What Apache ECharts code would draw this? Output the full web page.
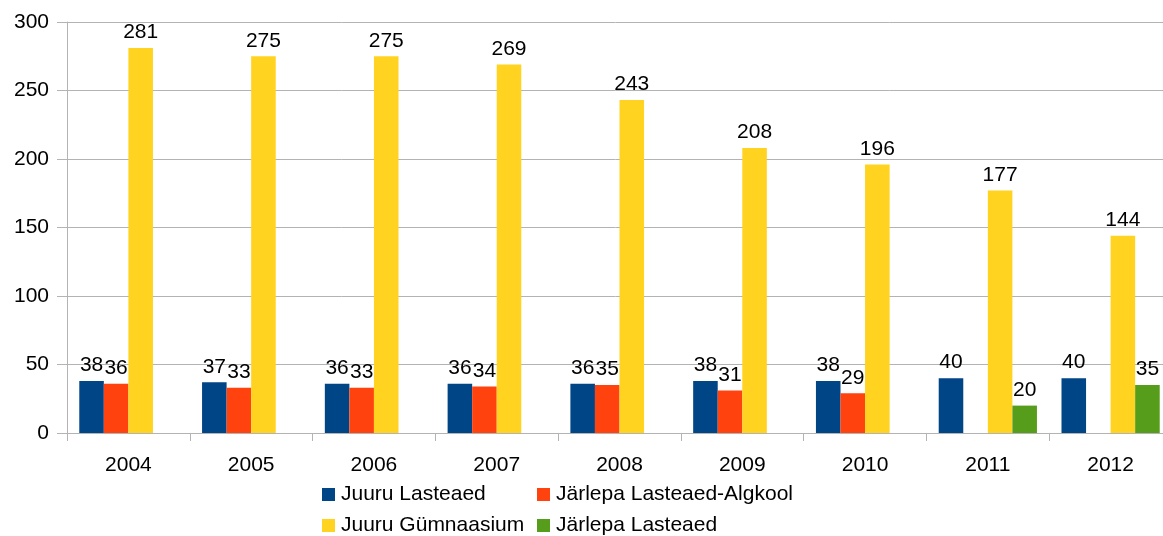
<!DOCTYPE html>
<html>
<head>
<meta charset="utf-8">
<script src="https://cdn.jsdelivr.net/npm/echarts@6/dist/echarts.min.js"></script>
<style>html,body{margin:0;padding:0;background:#fff;overflow:hidden}#c{width:1163px;height:536px}</style>
</head>
<body>
<div id="c"></div>
<script>
const categories = ['2004','2005','2006','2007','2008','2009','2010','2011','2012'];
const juuruLasteaed = [38,37,36,36,36,38,38,40,40];
const jarlepaLasteaedAlgkool = [36,33,33,34,35,31,29,null,null];
const juuruGumnaasium = [281,275,275,269,243,208,196,177,144];
const jarlepaLasteaed = [null,null,null,null,null,null,null,20,35];
const seriesNames = ['Juuru Lasteaed','Järlepa Lasteaed-Algkool','Juuru Gümnaasium','Järlepa Lasteaed'];
const colors = ['#004586','#ff420e','#ffd320','#579d1c'];
const yTicks = [0,50,100,150,200,250,300];

const FONT = 'Liberation Sans';
const FS = 21;
const chart = echarts.init(document.getElementById('c'));
const seriesData = [juuruLasteaed, jarlepaLasteaedAlgkool, juuruGumnaasium, jarlepaLasteaed];

function legend(name, left, top) {
  return {
    data: [name], left: left, top: top, itemWidth: 13, itemHeight: 13, itemGap: 0,
    icon: 'rect', selectedMode: false, padding: 0,
    textStyle: {fontFamily: FONT, fontSize: FS, color: '#000', padding: [0,0,0,1]}
  };
}

chart.setOption({
  animation: false,
  color: colors,
  textStyle: {fontFamily: FONT},
  grid: {left: 67, width: 1105, top: 22, bottom: 103, containLabel: false, outerBoundsMode: 'none'},
  legend: [
    legend(seriesNames[0], 322, 484),
    legend(seriesNames[1], 537, 484),
    legend(seriesNames[2], 322, 515),
    legend(seriesNames[3], 537, 515)
  ],
  xAxis: {
    type: 'category', data: categories,
    axisLine: {lineStyle: {color: '#b3b3b3', width: 1}},
    axisTick: {show: true, length: 8, lineStyle: {color: '#b3b3b3'}},
    axisLabel: {fontFamily: FONT, fontSize: FS, color: '#000', margin: 22},
    splitLine: {show: false}
  },
  yAxis: {
    type: 'value', min: yTicks[0], max: yTicks[yTicks.length-1], interval: 50,
    axisLine: {show: true, lineStyle: {color: '#b3b3b3', width: 1}},
    axisTick: {show: true, length: 10, lineStyle: {color: '#b3b3b3'}},
    axisLabel: {fontFamily: FONT, fontSize: FS, color: '#000', margin: 18},
    splitLine: {show: true, lineStyle: {color: '#b3b3b3', width: 1}}
  },
  series: seriesNames.map((n, i) => ({
    name: n, type: 'bar', data: seriesData[i],
    barGap: '0%', barCategoryGap: '20%',
    itemStyle: {color: colors[i]},
    label: {show: true, position: 'top', distance: 5, fontFamily: FONT, fontSize: FS, color: '#000'}
  }))
});
</script>
</body>
</html>
